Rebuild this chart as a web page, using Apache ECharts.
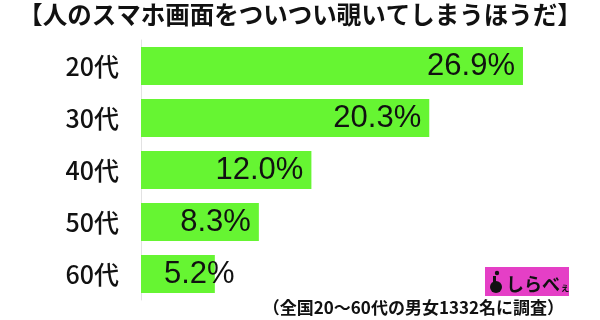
<!DOCTYPE html>
<html>
<head>
<meta charset="utf-8">
<script src="https://cdn.jsdelivr.net/npm/echarts@6/dist/echarts.min.js"></script>
<style>
html,body{margin:0;padding:0;background:#fff;}
#c{width:600px;height:320px;}
</style>
</head>
<body>
<div id="c"></div>
<script>
const titleText = '【人のスマホ画面をついつい覗いてしまうほうだ】';
const footnote = '（全国20～60代の男女1332名に調査）';
const categories = ['20代', '30代', '40代', '50代', '60代'];
const values = [26.9, 20.3, 12.0, 8.3, 5.2];
const valueLabels = ['26.9%', '20.3%', '12.0%', '8.3%', '5.2%'];

const chart = echarts.init(document.getElementById('c'), null, {renderer: 'canvas'});

const barData = values.map(function (v, i) {
  const item = {value: v};
  if (i === values.length - 1) {
    item.label = {position: 'insideLeft', distance: 23};
  }
  return item;
});

chart.setOption({
  animation: false,
  backgroundColor: '#ffffff',
  grid: {left: 141, right: 33, top: 40, bottom: 20, containLabel: false},
  xAxis: {
    type: 'value', min: 0, max: 30, show: false
  },
  yAxis: {
    type: 'category',
    data: categories,
    inverse: true,
    axisLine: {show: true, lineStyle: {color: '#e2e2e2', width: 1}},
    axisTick: {show: false},
    axisLabel: {
      margin: 22, fontSize: 25, color: '#111',
      fontFamily: 'Noto Sans CJK JP', fontWeight: 500
    }
  },
  series: [{
    type: 'bar',
    data: barData,
    barWidth: 38,
    itemStyle: {color: '#66f532'},
    label: {
      show: true,
      position: 'insideRight',
      distance: 8,
      fontSize: 31,
      color: '#111',
      fontFamily: 'Liberation Sans, Arial, sans-serif',
      formatter: function (p) { return valueLabels[p.dataIndex]; }
    }
  }],
  graphic: [
    {
      type: 'text', left: 'center', top: 2,
      style: {
        text: titleText, fontSize: 24.5, fontWeight: 'bold',
        fontFamily: 'Noto Sans CJK JP', fill: '#111'
      }
    },
    {
      type: 'text', right: 36, top: 299,
      style: {
        text: footnote, fontSize: 17, fontWeight: 'bold',
        fontFamily: 'Noto Sans CJK JP', fill: '#111'
      }
    },
    {
      type: 'group', left: 485, top: 267,
      children: [
        {type: 'rect', shape: {x: 0, y: 0, width: 84, height: 29}, style: {fill: '#e53fc6'}},
        {type: 'circle', shape: {cx: 12, cy: 6, r: 2.2}, style: {fill: '#111'}},
        {type: 'circle', shape: {cx: 11, cy: 20, r: 6}, style: {fill: '#111'}},
        {type: 'rect', shape: {x: 8, y: 9, width: 3, height: 10}, style: {fill: '#111'}},
        {type: 'text', x: 21, y: 17, style: {text: 'しらべ', fontSize: 18, fontWeight: 'bold', fontFamily: 'Noto Sans CJK JP', fill: '#111', textVerticalAlign: 'middle'}},
        {type: 'text', x: 75, y: 20, style: {text: 'ぇ', fontSize: 10, fontWeight: 'bold', fontFamily: 'Noto Sans CJK JP', fill: '#111', textVerticalAlign: 'middle'}}
      ]
    }
  ]
});
</script>
</body>
</html>
